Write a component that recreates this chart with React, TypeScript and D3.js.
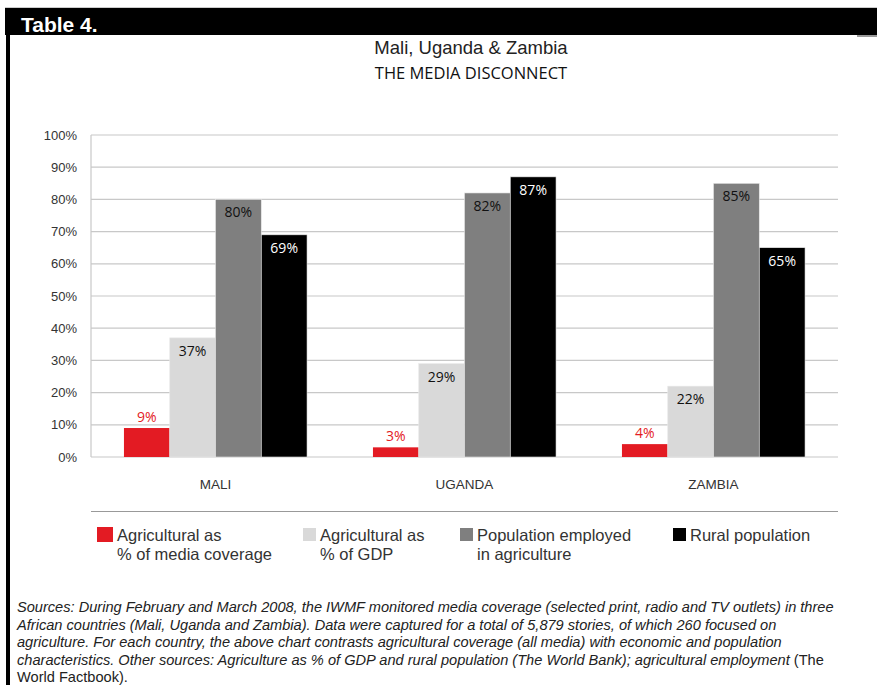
import React from 'react';
import * as d3 from 'd3';

const countries = ['MALI', 'UGANDA', 'ZAMBIA'];
const seriesNames = ['media', 'gdp', 'employed', 'rural'];
const mediaCoverage = [9, 3, 4];
const gdpShare = [37, 29, 22];
const employedShare = [80, 82, 85];
const ruralShare = [69, 87, 65];
const yTicks = [0, 10, 20, 30, 40, 50, 60, 70, 80, 90, 100];
const legendLabels = [
  ['Agricultural as', '% of media coverage'],
  ['Agricultural as', '% of GDP'],
  ['Population employed', 'in agriculture'],
  ['Rural population'],
];
const sourceLines = [
  'Sources: During February and March 2008, the IWMF monitored media coverage (selected print, radio and TV outlets) in three',
  'African countries (Mali, Uganda and Zambia). Data were captured for a total of 5,879 stories, of which 260 focused on',
  'agriculture. For each country, the above chart contrasts agricultural coverage (all media) with economic and population',
  'characteristics. Other sources: Agriculture as % of GDP and rural population (The World Bank); agricultural employment ',
];

const colors = ['#e31b23', '#d9d9d9', '#7f7f7f', '#000000'];
const labelColors = ['#e31b23', '#111', '#111', '#fff'];

export default function App() {
  const W = 877;
  const H = 691;
  const left = 91, right = 838, top = 135, bottom = 457;

  const values = [mediaCoverage, gdpShare, employedShare, ruralShare];

  const x0 = d3.scaleBand().domain(countries).range([left, right]).padding(0);
  const x1 = d3.scaleBand().domain(seriesNames).range([0, x0.bandwidth()])
    .paddingInner(0).paddingOuter(0.72);
  const y = d3.scaleLinear().domain([0, 100]).range([bottom, top]);

  const legendX = [97, 303, 460, 673];

  return (
    <svg width={W} height={H} style={{position: 'absolute', left: 0, top: 0, background: '#fff'}}>
      {/* header */}
      <line x1={5} x2={W} y1={7.5} y2={7.5} stroke="#ccc" />
      <rect x={5} y={8} width={W - 5} height={27} fill="#000" />
      <rect x={857} y={35} width={20} height={2} fill="#999" />
      <rect x={6} y={35} width={4} height={650} fill="#000" />
      <text x={21} y={32} fill="#fff" fontFamily="Liberation Sans, Arial" fontWeight="bold" fontSize={21}>Table 4.</text>

      <text x={471} y={54} textAnchor="middle" fontFamily="Liberation Sans, Arial" fontSize={18.5} fill="#222">Mali, Uganda &amp; Zambia</text>
      <text x={471} y={79} textAnchor="middle" fontFamily="Open Sans" fontSize={16.5} fill="#111">THE MEDIA DISCONNECT</text>

      {/* grid */}
      {yTicks.map(t => (
        <g key={t}>
          <line x1={left} x2={right} y1={y(t)} y2={y(t)} stroke="#c8c8c8" strokeWidth={1.2} />
          <text x={77} y={y(t) + 4.5} textAnchor="end" fontFamily="Liberation Sans, Arial" fontSize={13} fill="#333">{t}%</text>
        </g>
      ))}
      <line x1={left} x2={left} y1={top} y2={bottom} stroke="#c8c8c8" strokeWidth={1.2} />

      {/* bars */}
      {countries.map((c, ci) => (
        <g key={c} transform={`translate(${x0(c)},0)`}>
          {seriesNames.map((s, si) => {
            const v = values[si][ci];
            const bx = x1(s)!;
            const bw = x1.bandwidth();
            const isRed = si === 0;
            return (
              <g key={s}>
                <rect x={bx} y={y(v)} width={bw} height={bottom - y(v)} fill={colors[si]}
                  stroke={si === 0 ? 'none' : '#e8e8e8'} strokeWidth={0.6} />
                <text x={bx + bw / 2} y={isRed ? y(v) - 6 : y(v) + 18} textAnchor="middle"
                  fontFamily="Open Sans" fontSize={14} fill={labelColors[si]}>{v}%</text>
              </g>
            );
          })}
          <text x={x0.bandwidth() / 2} y={489} textAnchor="middle" fontFamily="Liberation Sans, Arial" fontSize={13.5} fill="#333">{c}</text>
        </g>
      ))}

      {/* legend */}
      <line x1={left} x2={right} y1={511.5} y2={511.5} stroke="#999" strokeWidth={1.2} />
      {legendLabels.map((lines, i) => (
        <g key={i}>
          <rect x={legendX[i]} y={i === 0 ? 527 : 528} width={i === 0 ? 16 : 13} height={i === 0 ? 15 : 13} fill={colors[i]} />
          <text fontFamily="Liberation Sans, Arial" fontSize={16.5} fill="#333">
            {lines.map((l, li) => (
              <tspan key={li} x={legendX[i] + (i === 0 ? 20 : 17)} y={541 + li * 19}>{l}</tspan>
            ))}
          </text>
        </g>
      ))}

      {/* sources */}
      {sourceLines.map((l, i) => (
        <text key={i} x={17} y={612 + i * 17.5} fontFamily="Liberation Sans, Arial" fontSize={14.6} fill="#222">
          <tspan fontStyle="italic">{l}</tspan>
          {i === 3 ? <tspan>(The</tspan> : null}
        </text>
      ))}
      <text x={17} y={612 + 4 * 17.5} fontFamily="Liberation Sans, Arial" fontSize={14.6} fill="#222">World Factbook).</text>
    </svg>
  );
}
